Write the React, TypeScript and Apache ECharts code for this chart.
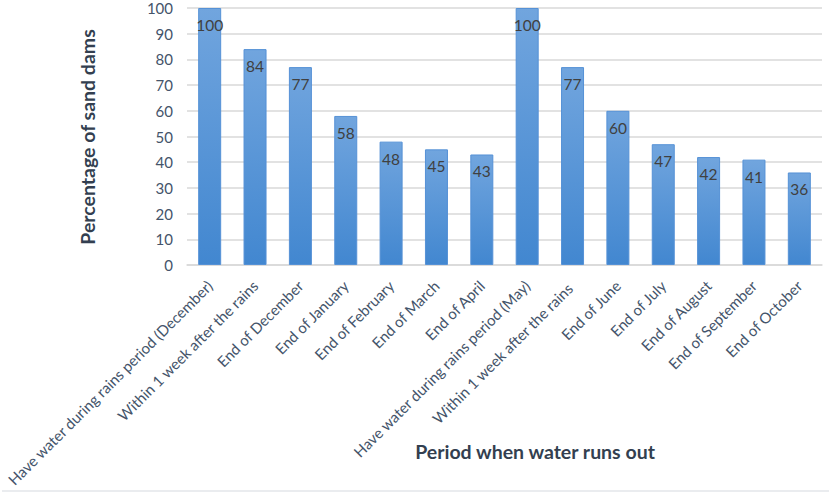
import React, { useEffect, useRef } from "react";
import * as echarts from "echarts";

const categories = [
  "Have water during rains period (December)",
  "Within 1 week after the rains",
  "End of December",
  "End of January",
  "End of February",
  "End of March",
  "End of April",
  "Have water during rains period (May)",
  "Within 1 week after the rains ",
  "End of June",
  "End of July",
  "End of August",
  "End of September",
  "End of October",
];
const values = [100, 84, 77, 58, 48, 45, 43, 100, 77, 60, 47, 42, 41, 36];
const yTitle = "Percentage of sand dams";
const xTitle = "Period when water runs out";

const FONT = "Lato, 'Open Sans', sans-serif";

export default function App() {
  const ref = useRef<HTMLDivElement>(null);
  useEffect(() => {
    if (!ref.current) return;
    const chart = echarts.init(ref.current, undefined, { renderer: "svg" });
    chart.setOption({
      animation: false,
      backgroundColor: "#ffffff",
      grid: { left: 187, right: 7, top: 8, bottom: 229, containLabel: false },
      xAxis: {
        type: "category",
        data: categories,
        axisLine: { show: true, lineStyle: { color: "#d9d9d9", width: 1.5 } },
        axisTick: { show: false },
        axisLabel: {
          rotate: 45,
          interval: 0,
          margin: 18,
          fontFamily: FONT,
          fontSize: 15,
          color: "#44546A",
        },
      },
      yAxis: {
        type: "value",
        min: 0,
        max: 100,
        interval: 10,
        axisLine: { show: false },
        axisTick: { show: false },
        splitLine: { show: true, lineStyle: { color: "#d9d9d9", width: 1.5 } },
        axisLabel: {
          margin: 14,
          fontFamily: FONT,
          fontSize: 15,
          color: "#44546A",
        },
      },
      series: [
        {
          type: "bar",
          data: values,
          barWidth: 23,
          itemStyle: {
            color: new echarts.graphic.LinearGradient(0, 0, 0, 1, [
              { offset: 0, color: "#71a5de" },
              { offset: 1, color: "#4287d0" },
            ]),
            borderColor: "#5591d6",
            borderWidth: 1,
          },
          label: {
            show: true,
            position: "insideTop",
            distance: 9,
            fontFamily: FONT,
            fontSize: 15.5,
            color: "#404040",
          },
        },
      ],
      graphic: [
        {
          type: "text",
          x: 87,
          y: 137,
          rotation: Math.PI / 2,
          style: {
            text: yTitle,
            fontFamily: FONT,
            fontSize: 19.5,
            fontWeight: "bold",
            fill: "#333F50",
            align: "center",
            verticalAlign: "middle",
          },
        },
        {
          type: "text",
          x: 535,
          y: 451,
          style: {
            text: xTitle,
            fontFamily: FONT,
            fontSize: 19.5,
            fontWeight: "bold",
            fill: "#333F50",
            align: "center",
            verticalAlign: "middle",
          },
        },
        {
          type: "line",
          shape: { x1: 2, y1: 491, x2: 829, y2: 491 },
          style: { stroke: "#e3e6ea", lineWidth: 1.5 },
        },
      ],
    });
    return () => chart.dispose();
  }, []);
  return (
    <div
      ref={ref}
      style={{ position: "fixed", left: 0, top: 0, width: 829, height: 494 }}
    />
  );
}
